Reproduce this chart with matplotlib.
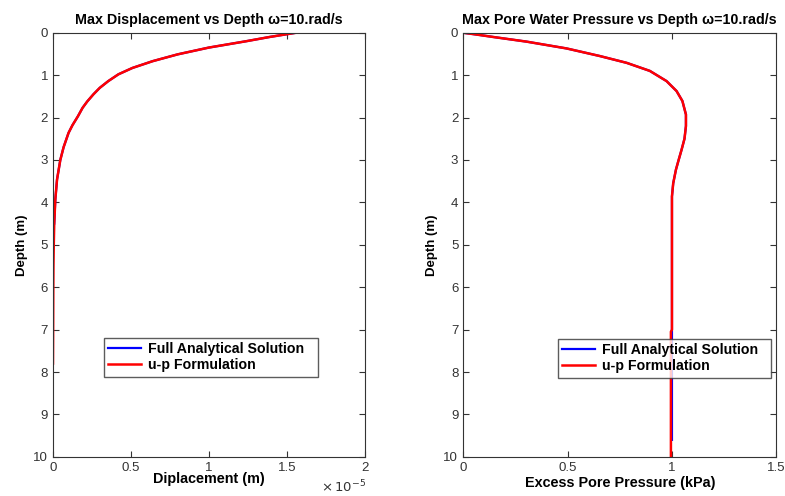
import numpy as np
import matplotlib.pyplot as plt
from matplotlib.ticker import FuncFormatter

plt.rcParams['font.family'] = ['Liberation Sans', 'DejaVu Sans']

# Left panel: max displacement (m) vs depth (m)
disp_depth_full = [0, 0.1, 0.2, 0.35, 0.51, 0.67, 0.83, 0.98, 1.14, 1.3, 1.45, 1.62, 1.77,
                   1.97, 2.18, 2.36, 2.7, 3.0, 3.46, 3.93, 4.5]
disp_full = [1.56e-5, 1.39e-5, 1.24e-5, 1.0e-5, 0.80e-5, 0.64e-5, 0.51e-5, 0.42e-5,
             0.355e-5, 0.30e-5, 0.26e-5, 0.22e-5, 0.19e-5, 0.16e-5, 0.125e-5, 0.10e-5,
             0.068e-5, 0.047e-5, 0.026e-5, 0.015e-5, 0.008e-5]
disp_depth_up = disp_depth_full + [5.0, 5.5, 6.0, 7.0, 7.8]
disp_up = disp_full + [0.005e-5, 0.003e-5, 0.002e-5, 0.001e-5, 0.0]

# Right panel: max excess pore pressure (kPa) vs depth (m)
pp_depth_full = [0, 0.04, 0.10, 0.21, 0.37, 0.55, 0.71, 0.90, 1.14, 1.375, 1.61, 1.93,
                 2.2, 2.5, 2.76, 3.0, 3.23, 3.55, 3.86, 4.2, 7.0, 8.0, 9.0, 9.6]
pp_full = [0, 0.06, 0.144, 0.304, 0.495, 0.655, 0.783, 0.894, 0.974, 1.022, 1.05, 1.067,
           1.067, 1.06, 1.046, 1.032, 1.019, 1.006, 1.0, 1.0, 1.0, 1.0, 1.0, 1.0]
pp_depth_up = [0, 0.04, 0.10, 0.21, 0.37, 0.55, 0.71, 0.90, 1.14, 1.375, 1.61, 1.93,
               2.2, 2.5, 2.76, 3.0, 3.23, 3.55, 3.86, 4.2, 7.0, 7.05, 10.0]
pp_up = [0, 0.06, 0.144, 0.304, 0.495, 0.655, 0.783, 0.894, 0.974, 1.022, 1.05, 1.067,
         1.067, 1.06, 1.046, 1.032, 1.019, 1.006, 1.0, 1.0, 1.0, 0.995, 0.995]

disp_ticks = [0, 0.5e-5, 1e-5, 1.5e-5, 2e-5]
pp_ticks = [0, 0.5, 1, 1.5]

fig = plt.figure(figsize=(7.85, 4.96), dpi=100)
ax1 = fig.add_axes([0.0675, 0.079, 0.397, 0.855])
ax2 = fig.add_axes([0.590, 0.079, 0.399, 0.855])

legend_kw = dict(loc='lower left', mode='expand', fancybox=False, edgecolor='#333333',
                 borderaxespad=0, handlelength=2.3, borderpad=0.3, labelspacing=0.15,
                 handletextpad=0.5, prop={'weight': 'bold', 'size': 10.2})


def style(ax):
    ax.set_ylim(10, 0)
    ax.set_yticks(range(0, 11))
    ax.tick_params(direction='in', top=True, right=True, labelsize=9.5, length=4,
                   width=0.8, colors='#333333')
    for s in ax.spines.values():
        s.set_color('#333333')
    ax.set_ylabel('Depth (m)', fontsize=9.5, fontweight='bold', labelpad=4)


ax1.plot(disp_full, disp_depth_full, color='blue', lw=1.6, label='Full Analytical Solution')
ax1.plot(disp_up, disp_depth_up, color='red', lw=1.8, label='u-p Formulation')
ax1.set_xlim(0, 2e-5)
ax1.set_xticks(disp_ticks)
ax1.xaxis.set_major_formatter(FuncFormatter(lambda v, p: f'{v / 1e-5:g}'))
style(ax1)
ax1.text(1.005, -0.052, r'$\times\,10^{-5}$', transform=ax1.transAxes, ha='right', va='top',
         fontsize=9.5, color='#333333')
ax1.set_xlabel('Diplacement (m)', fontsize=10.4, fontweight='bold', labelpad=-1)
ax1.set_title('Max Displacement vs Depth \u03c9=10.rad/s', fontsize=10.3, fontweight='bold', pad=6)
ax1.legend(bbox_to_anchor=(0.164, 0.189, 0.685, 0.09), **legend_kw)

ax2.plot(pp_full, pp_depth_full, color='blue', lw=1.6, label='Full Analytical Solution')
ax2.plot(pp_up, pp_depth_up, color='red', lw=1.8, label='u-p Formulation')
ax2.set_xlim(0, 1.5)
ax2.set_xticks(pp_ticks)
ax2.xaxis.set_major_formatter(FuncFormatter(lambda v, p: f'{v:g}'))
style(ax2)
ax2.set_xlabel('Excess Pore Pressure (kPa)', fontsize=10.4, fontweight='bold', labelpad=2)
ax2.set_title('Max Pore Water Pressure vs Depth \u03c9=10.rad/s', fontsize=10.3, fontweight='bold', pad=6)
ax2.legend(bbox_to_anchor=(0.303, 0.187, 0.68, 0.09), **legend_kw)

fig.savefig('out.png', dpi=100)
